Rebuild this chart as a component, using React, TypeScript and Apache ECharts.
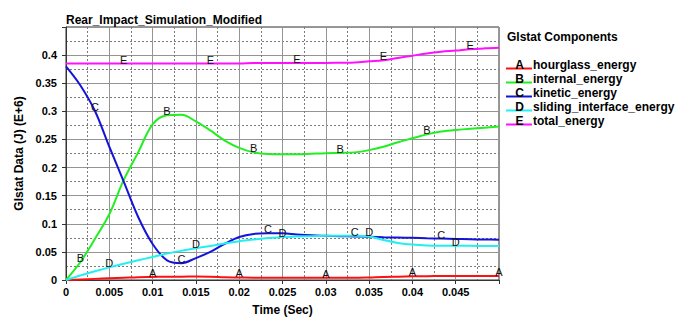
import React, { useEffect, useRef } from "react";
import * as echarts from "echarts";

// Sample times (s) shared by all Glstat components
const TIME = [
  0, 0.001667, 0.003333, 0.005, 0.006667, 0.008333, 0.01, 0.011667, 0.013333, 0.015,
  0.016667, 0.018333, 0.02, 0.021667, 0.023333, 0.025, 0.026667, 0.028333, 0.03, 0.031667,
  0.033333, 0.035, 0.036667, 0.038333, 0.04, 0.041667, 0.043333, 0.045, 0.046667, 0.048333,
  0.05,
];

// Energies in J (E+6)
const HOURGLASS = [
  0, 0.001, 0.002, 0.003, 0.004, 0.005, 0.0055, 0.006, 0.006, 0.0062,
  0.006, 0.005, 0.0045, 0.004, 0.004, 0.004, 0.004, 0.004, 0.004, 0.0038,
  0.0038, 0.0045, 0.0055, 0.006, 0.0065, 0.0068, 0.007, 0.007, 0.007, 0.007,
  0.007,
];
const INTERNAL = [
  0, 0.032, 0.073, 0.117, 0.178, 0.227, 0.277, 0.293, 0.294, 0.282,
  0.266, 0.248, 0.235, 0.227, 0.224, 0.2235, 0.2235, 0.2245, 0.2255, 0.226,
  0.227, 0.231, 0.237, 0.245, 0.252, 0.259, 0.264, 0.267, 0.269, 0.271,
  0.273,
];
const KINETIC = [
  0.38, 0.346, 0.301, 0.237, 0.175, 0.112, 0.064, 0.035, 0.03, 0.039,
  0.05, 0.0645, 0.0765, 0.082, 0.083, 0.083, 0.081, 0.0795, 0.0787, 0.078,
  0.0775, 0.0768, 0.076, 0.0755, 0.075, 0.0743, 0.0737, 0.073, 0.0725, 0.072,
  0.0717,
];
const SLIDING = [
  0, 0.008, 0.0155, 0.0225, 0.029, 0.035, 0.041, 0.047, 0.052, 0.0565,
  0.0605, 0.065, 0.069, 0.072, 0.0745, 0.0765, 0.0775, 0.078, 0.0785, 0.0787,
  0.0787, 0.0775, 0.071, 0.066, 0.063, 0.0615, 0.061, 0.061, 0.0607, 0.0605,
  0.0605,
];
const TOTAL = [
  0.385, 0.385, 0.385, 0.385, 0.385, 0.385, 0.385, 0.385, 0.385, 0.385,
  0.385, 0.385, 0.385, 0.386, 0.386, 0.386, 0.386, 0.386, 0.386, 0.3865,
  0.387, 0.389, 0.391, 0.395, 0.399, 0.403, 0.406, 0.408, 0.4105, 0.412,
  0.413,
];

const SERIES_NAMES = [
  "hourglass_energy",
  "internal_energy",
  "kinetic_energy",
  "sliding_interface_energy",
  "total_energy",
];
const SERIES_LETTERS = ["A", "B", "C", "D", "E"];
const SERIES_VALUES = [HOURGLASS, INTERNAL, KINETIC, SLIDING, TOTAL];
const SERIES_COLORS = ["#ff1010", "#22ee22", "#1414d8", "#22f0f0", "#ff10ff"];
// Sample indices at which each curve carries its identifying letter
const LETTER_INDICES = [
  [6, 12, 18, 24, 30],
  [1, 7, 13, 19, 25],
  [2, 8, 14, 20, 26],
  [3, 9, 15, 21, 27],
  [4, 10, 16, 22, 28],
];

const TITLE = "Rear_Impact_Simulation_Modified";
const LEGEND_TITLE = "Glstat Components";
const X_NAME = "Time (Sec)";
const Y_NAME = "Glstat Data (J) (E+6)";

const FONT = '"Liberation Sans", Arial, sans-serif';

function fmt(v: number, max: number) {
  if (v >= max - 1e-9) return "";
  return String(parseFloat(v.toFixed(4)));
}

function buildOption(): echarts.EChartsOption {
  const series = SERIES_NAMES.map((name, s) => ({
    name,
    type: "line" as const,
    smooth: 0.35,
    symbol: "circle",
    symbolSize: 0,
    showSymbol: true,
    showAllSymbol: true,
    silent: true,
    lineStyle: { color: SERIES_COLORS[s], width: 2 },
    itemStyle: { color: SERIES_COLORS[s] },
    emphasis: { disabled: true },
    label: { show: false },
    data: TIME.map((t, i) => {
      const v = SERIES_VALUES[s][i];
      if (LETTER_INDICES[s].includes(i)) {
        return {
          value: [t, v],
          label: {
            show: true,
            formatter: SERIES_LETTERS[s],
            position: "inside",
            offset: [0, -4],
            color: "#111",
            fontSize: 11,
            fontFamily: FONT,
          },
        };
      }
      return { value: [t, v] };
    }),
  }));

  const legendX = 507;
  const rowY0 = 64.5;
  const rowStep = 14;
  const legendItems: any[] = [
    {
      type: "text",
      x: legendX,
      y: 37,
      style: {
        text: LEGEND_TITLE,
        fill: "#000",
        font: `bold 12px ${FONT}`,
        verticalAlign: "middle",
      },
    },
  ];
  SERIES_NAMES.forEach((name, i) => {
    const y = rowY0 + i * rowStep;
    legendItems.push(
      {
        type: "line",
        shape: { x1: legendX - 1, y1: y + 4, x2: legendX + 25, y2: y + 4 },
        style: { stroke: SERIES_COLORS[i], lineWidth: 2 },
      },
      {
        type: "text",
        x: legendX + 12.5,
        y,
        style: {
          text: SERIES_LETTERS[i],
          fill: "#000",
          font: `bold 12px ${FONT}`,
          align: "center",
          verticalAlign: "middle",
        },
      },
      {
        type: "text",
        x: legendX + 26,
        y,
        style: {
          text: name,
          fill: "#000",
          font: `bold 12px ${FONT}`,
          verticalAlign: "middle",
        },
      }
    );
  });

  const axisCommon = {
    axisLine: { show: true, lineStyle: { color: "#333", width: 1 } },
    axisTick: { show: true, length: 4, lineStyle: { color: "#333" } },
    splitLine: { show: true, lineStyle: { color: "#949494", width: 1, type: "solid" as const } },
    minorTick: { show: false, splitNumber: 2 },
    minorSplitLine: { show: true, lineStyle: { color: "#7a7a7a", width: 1, type: [2, 2] as any } },
    nameTextStyle: { color: "#000", fontWeight: "bold" as const, fontSize: 12, fontFamily: FONT },
  };

  return {
    animation: false,
    backgroundColor: "#fff",
    textStyle: { fontFamily: FONT },
    title: {
      text: TITLE,
      left: 66,
      top: 14,
      padding: 0,
      textStyle: { color: "#000", fontSize: 12, fontWeight: "bold", fontFamily: FONT },
    },
    grid: {
      left: 66,
      right: 188,
      top: 27,
      bottom: 38,
      show: true,
      borderColor: "#333",
      borderWidth: 1,
      backgroundColor: "transparent",
    },
    xAxis: {
      type: "value",
      min: 0,
      max: 0.05,
      interval: 0.005,
      name: X_NAME,
      nameLocation: "middle",
      nameGap: 24,
      ...axisCommon,
      axisLabel: {
        margin: 6,
        color: "#000",
        fontWeight: "bold",
        fontSize: 11,
        fontFamily: FONT,
        formatter: (v: number) => fmt(v, 0.05),
      },
    },
    yAxis: {
      type: "value",
      min: 0,
      max: 0.45,
      interval: 0.05,
      name: Y_NAME,
      nameLocation: "middle",
      nameGap: 40,
      ...axisCommon,
      axisLabel: {
        margin: 9,
        color: "#000",
        fontWeight: "bold",
        fontSize: 11,
        fontFamily: FONT,
        formatter: (v: number) => fmt(v, 0.45),
      },
    },
    graphic: legendItems,
    series,
  };
}

export default function App() {
  const ref = useRef<HTMLDivElement>(null);
  useEffect(() => {
    if (!ref.current) return;
    const chart = echarts.init(ref.current, null, { renderer: "svg" });
    chart.setOption(buildOption());
    return () => chart.dispose();
  }, []);
  return (
    <div
      ref={ref}
      style={{ position: "fixed", left: 0, top: 0, width: 687, height: 321, background: "#fff" }}
    />
  );
}
